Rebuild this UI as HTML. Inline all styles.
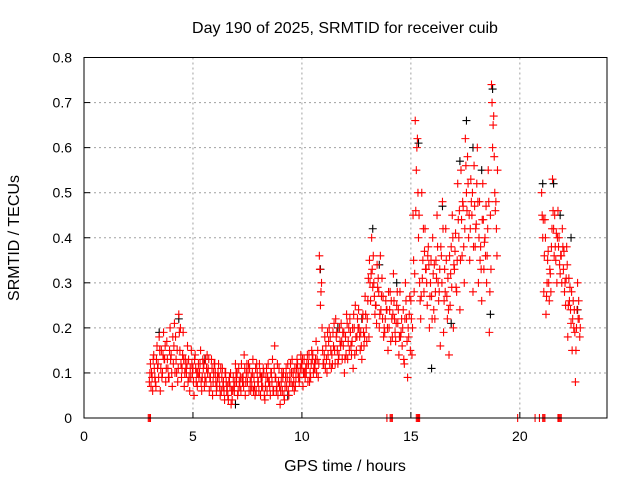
<!DOCTYPE html>
<html><head><meta charset="utf-8"><style>
html,body{margin:0;padding:0;background:#fff;}
svg{display:block;font-family:"Liberation Sans",sans-serif;}
</style></head><body>
<svg id="chart" width="640" height="480">
<text x="345" y="33" font-size="16" text-anchor="middle">Day 190 of 2025, SRMTID for receiver cuib</text>
<text x="345" y="471" font-size="16" text-anchor="middle">GPS time / hours</text>
<text x="19" y="238" font-size="16" text-anchor="middle" transform="rotate(-90 19 238)">SRMTID / TECUs</text>
<g id="grid"></g><g id="marks"></g><g id="axes"></g>
</svg>
<script>
const xTicks=[0,5,10,15,20];
const yTicks=[0,0.1,0.2,0.3,0.4,0.5,0.6,0.7,0.8];
const yTickLabels=["0","0.1","0.2","0.3","0.4","0.5","0.6","0.7","0.8"];
const hours=[3.0,3.1,3.2,3.3,3.4,3.5,3.6,3.7,3.8,3.9,4.0,4.1,4.2,4.3,4.4,4.5,4.6,4.7,4.8,4.9,
5.0,5.1,5.2,5.3,5.4,5.5,5.6,5.7,5.8,5.9,6.0,6.1,6.2,6.3,6.4,6.5,6.6,6.7,6.8,6.9,
7.0,7.1,7.2,7.3,7.4,7.5,7.6,7.7,7.8,7.9,8.0,8.1,8.2,8.3,8.4,8.5,8.6,8.7,8.8,8.9,
9.0,9.1,9.2,9.3,9.4,9.5,9.6,9.7,9.8,9.9,10.0,10.1,10.2,10.3,10.4,10.5,10.6,10.7,10.8,10.9,
11.0,11.1,11.2,11.3,11.4,11.5,11.6,11.7,11.8,11.9,12.0,12.1,12.2,12.3,12.4,12.5,12.6,12.7,12.8,12.9,
13.0,13.1,13.2,13.3,13.4,13.5,13.6,13.7,13.8,13.9,14.0,14.1,14.2,14.3,14.4,14.5,14.6,14.7,14.8,14.9,
15.0,15.1,15.2,15.3,15.4,15.5,15.6,15.7,15.8,15.9,16.0,16.1,16.2,16.3,16.4,16.5,16.6,16.7,16.8,16.9,
17.0,17.1,17.2,17.3,17.4,17.5,17.6,17.7,17.8,17.9,18.0,18.1,18.2,18.3,18.4,18.5,18.6,18.7,18.8,18.9,
21.0,21.1,21.2,21.3,21.4,21.5,21.6,21.7,21.8,21.9,22.0,22.1,22.2,22.3,22.4,22.5,22.6,22.7];
const tecA=[.08,.10,.14,.07,.12,.06,.10,.13,.17,.09,.14,.12,.18,.08,.15,.11,.07,.10,.13,.09,
.11,.14,.07,.10,.06,.12,.08,.11,.09,.05,.12,.07,.09,.06,.08,.10,.05,.07,.04,.06,
.08,.11,.06,.09,.05,.08,.11,.07,.09,.06,.08,.05,.07,.04,.06,.08,.10,.06,.09,.05,
.03,.06,.04,.07,.05,.08,.10,.07,.12,.09,.11,.13,.10,.12,.09,.14,.11,.13,.36,.30,
.12,.16,.14,.18,.12,.15,.19,.14,.21,.16,.18,.13,.22,.17,.20,.15,.24,.19,.23,.27,
.22,.35,.40,.30,.25,.31,.36,.22,.19,.24,.20,.26,.32,.17,.21,.28,.16,.12,.22,.18,
.26,.45,.66,.62,.30,.50,.28,.33,.38,.30,.40,.22,.45,.28,.36,.19,.42,.31,.25,.45,
.33,.28,.40,.55,.47,.62,.58,.35,.45,.56,.43,.30,.38,.52,.40,.36,.19,.74,.67,.48,
.50,.28,.23,.37,.32,.53,.45,.30,.40,.36,.33,.25,.18,.29,.15,.24,.20,.26];
const tecB=[.12,.06,.09,.16,.18,.15,.19,.08,.11,.20,.07,.21,.10,.23,.12,.19,.13,.16,.06,.12,
.05,.08,.12,.15,.13,.09,.14,.06,.13,.10,.08,.10,.05,.11,.04,.06,.08,.03,.09,.12,
.05,.07,.09,.14,.10,.12,.06,.13,.05,.10,.12,.07,.10,.09,.12,.05,.13,.16,.07,.11,
.08,.10,.09,.12,.10,.13,.06,.11,.09,.14,.07,.09,.14,.08,.15,.11,.17,.09,.25,.15,
.18,.10,.20,.11,.16,.22,.12,.17,.13,.10,.23,.20,.16,.11,.25,.22,.18,.13,.16,.20,
.31,.26,.29,.23,.34,.20,.27,.18,.26,.15,.28,.18,.22,.25,.14,.19,.24,.30,.09,.27,
.14,.28,.55,.40,.22,.35,.42,.25,.20,.27,.24,.35,.30,.16,.48,.33,.27,.14,.38,.20,
.41,.52,.24,.36,.30,.50,.40,.53,.28,.38,.60,.48,.26,.33,.47,.55,.45,.60,.50,.36,
.40,.44,.30,.26,.38,.42,.35,.46,.32,.42,.28,.38,.31,.21,.26,.08,.30,.18];
const tecC=[.10,.09,.11,.13,.09,.11,.14,.16,.13,.15,.10,.16,.13,.11,.20,.14,.10,.12,.09,.15,
.08,.11,.10,.12,.09,.07,.11,.13,.07,.08,.10,.09,.07,.09,.06,.08,.04,.10,.06,.08,
.10,.08,.12,.07,.08,.10,.08,.10,.07,.12,.06,.09,.11,.07,.09,.07,.08,.11,.06,.08,
.06,.09,.07,.09,.08,.10,.08,.09,.10,.11,.13,.10,.12,.14,.12,.10,.13,.15,.33,.20,
.14,.13,.17,.15,.19,.12,.15,.20,.17,.19,.14,.17,.19,.20,.14,.18,.20,.16,.19,.23,
.26,.30,.33,.27,.21,.28,.24,.27,.22,.20,.24,.22,.26,.21,.24,.18,.20,.22,.17,.23,
.22,.35,.46,.50,.26,.31,.37,.30,.34,.35,.32,.28,.38,.33,.30,.26,.35,.24,.32,.40,
.37,.35,.46,.44,.38,.56,.52,.42,.50,.47,.52,.40,.33,.44,.36,.42,.28,.70,.58,.42,
.45,.36,.27,.30,.28,.46,.38,.40,.34,.30,.37,.31,.25,.24,.22,.19,.24,.22];
const tecD=[.07,.13,.08,.11,.15,.09,.13,.11,.09,.13,.18,.10,.15,.19,.09,.13,.11,.08,.11,.10,
.13,.10,.09,.08,.11,.13,.10,.09,.11,.12,.06,.12,.11,.07,.10,.07,.09,.06,.07,.10,
.06,.09,.08,.11,.12,.06,.09,.06,.11,.08,.10,.09,.05,.11,.08,.10,.06,.09,.12,.07,
.10,.05,.11,.06,.12,.07,.11,.13,.08,.12,.10,.11,.08,.10,.13,.12,.10,.12,.28,.12,
.11,.19,.12,.14,.21,.18,.13,.16,.19,.13,.21,.15,.14,.23,.18,.20,.15,.22,.18,.17,
.18,.32,.36,.25,.29,.23,.31,.20,.24,.28,.17,.23,.19,.28,.18,.22,.13,.26,.20,.15,
.20,.32,.60,.45,.27,.42,.33,.36,.27,.22,.34,.31,.26,.38,.42,.28,.22,.36,.29,.34,
.29,.44,.35,.48,.42,.46,.45,.48,.38,.42,.48,.35,.44,.39,.30,.48,.33,.65,.46,.55,
.44,.40,.35,.33,.42,.36,.41,.38,.36,.38,.30,.34,.26,.28,.20,.15,.22,.20];
const blackHours=[3.4,4.3,5.5,6.9,8.1,9.3,10.8,11.6,12.7,13.2,13.5,14.3,15.3,15.9,16.4,16.8,17.2,17.5,17.8,18.2,18.6,18.7,21.0,21.5,21.8,22.3,22.6];
const blackTec=[.19,.22,.13,.03,.09,.05,.33,.20,.22,.42,.34,.30,.61,.11,.47,.21,.57,.66,.60,.55,.23,.73,.52,.52,.45,.40,.24];
const zeroHours=[2.95,3.0,3.05,13.9,14.05,14.1,14.15,15.25,15.3,15.35,15.4,19.9,20.7,20.9,21.05,21.1,21.15,21.75,21.8,21.85,21.9];
const zeroTec=[0,0,0,0,0,0,0,0,0,0,0,0,0,0,0,0,0,0,0,0,0];

const L=84,R=607,T=57.5,B=418;
const sx=h=>L+(h/24)*(R-L);
const sy=v=>B-(v/0.8)*(B-T);
const NS="http://www.w3.org/2000/svg";
function mk(tag,attrs,parent){const e=document.createElementNS(NS,tag);for(const k in attrs)e.setAttribute(k,attrs[k]);parent.appendChild(e);return e;}
const grid=document.getElementById('grid'),marks=document.getElementById('marks'),axes=document.getElementById('axes');
xTicks.forEach(t=>{
 if(t>0){const g=mk('line',{x1:sx(t),x2:sx(t),y1:T,y2:B,stroke:'#a0a0a0','stroke-dasharray':'2,3'},grid);
 
 }
 const tk=mk('line',{x1:sx(t),x2:sx(t),y1:B,y2:B-6,stroke:'#000'},axes);
 
 
 const lb=mk('text',{x:sx(t),y:B+23,'font-size':14,'text-anchor':'middle'},axes);lb.textContent=t;
 
 
});
yTicks.forEach((t,i)=>{
 if(t>0&&t<0.8){const g=mk('line',{x1:L,x2:R,y1:sy(t),y2:sy(t),stroke:'#a0a0a0','stroke-dasharray':'2,3'},grid);
 
 }
 const tk=mk('line',{x1:L,x2:L+6,y1:sy(t),y2:sy(t),stroke:'#000'},axes);
 
 
 const lb=mk('text',{x:L-12,y:sy(t)+5,'font-size':14,'text-anchor':'end'},axes);lb.textContent=yTickLabels[i];
 
 
});
const frame=mk('rect',{x:L,y:T,width:R-L,height:B-T,fill:'none',stroke:'#000'},axes);


function plus(h,v,color,name){
 const x=sx(h),y=sy(v);
 const p=mk('path',{d:`M${x-4},${y}h8M${x},${y-4}v8`,stroke:color,'stroke-width':1.1,fill:'none'},marks);
 
 
}
blackHours.forEach((h,i)=>plus(h+0.05,blackTec[i],'#000','black-point'));
hours.forEach((h,i)=>{
 plus(h,tecA[i],'#f00','red-point');
 plus(h+0.05,tecB[i],'#f00','red-point');
 plus(h+0.025,tecC[i],'#f00','red-point');
 plus(h+0.075,tecD[i],'#f00','red-point');
});
zeroHours.forEach((h,i)=>plus(h,zeroTec[i],'#f00','zero-point'));
</script>
</body></html>
